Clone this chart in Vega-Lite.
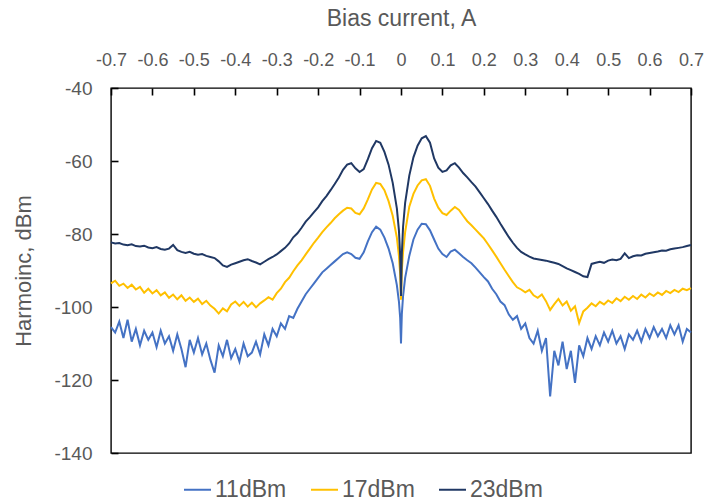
{
  "$schema": "https://vega.github.io/schema/vega-lite/v6.json",
  "width": 580,
  "height": 365,
  "autosize": {"type": "none"},
  "padding": {"left": 111, "top": 88, "right": 16, "bottom": 49},
  "background": "white",
  "config": {
    "view": {"stroke": "#000000", "strokeWidth": 1.4},
    "font": "Liberation Sans",
    "locale": {"number": {"decimal": ".", "thousands": ",", "grouping": [3], "currency": ["$", ""], "minus": "-"}}
  },
  "data": {
    "values": [
      {"x": -0.70, "11dBm": -105.5, "17dBm": -93.5, "23dBm": -82.3},
      {"x": -0.69, "11dBm": -107.0, "17dBm": -92.8, "23dBm": -82.6},
      {"x": -0.68, "11dBm": -104.0, "17dBm": -94.2, "23dBm": -82.5},
      {"x": -0.67, "11dBm": -108.5, "17dBm": -93.6, "23dBm": -82.9},
      {"x": -0.66, "11dBm": -103.5, "17dBm": -94.8, "23dBm": -83.1},
      {"x": -0.65, "11dBm": -109.5, "17dBm": -93.9, "23dBm": -82.8},
      {"x": -0.64, "11dBm": -106.0, "17dBm": -95.2, "23dBm": -83.3},
      {"x": -0.63, "11dBm": -110.5, "17dBm": -94.5, "23dBm": -83.4},
      {"x": -0.62, "11dBm": -106.5, "17dBm": -96.1, "23dBm": -83.2},
      {"x": -0.61, "11dBm": -109.0, "17dBm": -95.0, "23dBm": -83.7},
      {"x": -0.60, "11dBm": -107.0, "17dBm": -96.3, "23dBm": -83.9},
      {"x": -0.59, "11dBm": -111.0, "17dBm": -95.4, "23dBm": -83.6},
      {"x": -0.58, "11dBm": -106.5, "17dBm": -96.8, "23dBm": -84.1},
      {"x": -0.57, "11dBm": -110.0, "17dBm": -96.0, "23dBm": -84.3},
      {"x": -0.56, "11dBm": -108.0, "17dBm": -97.5, "23dBm": -84.0},
      {"x": -0.55, "11dBm": -112.0, "17dBm": -96.6, "23dBm": -83.0},
      {"x": -0.54, "11dBm": -107.5, "17dBm": -97.9, "23dBm": -84.4},
      {"x": -0.53, "11dBm": -111.5, "17dBm": -96.8, "23dBm": -84.9},
      {"x": -0.52, "11dBm": -116.5, "17dBm": -98.3, "23dBm": -85.2},
      {"x": -0.51, "11dBm": -109.0, "17dBm": -97.4, "23dBm": -84.9},
      {"x": -0.50, "11dBm": -112.5, "17dBm": -98.6, "23dBm": -85.4},
      {"x": -0.49, "11dBm": -108.5, "17dBm": -97.7, "23dBm": -85.7},
      {"x": -0.48, "11dBm": -113.0, "17dBm": -99.2, "23dBm": -85.5},
      {"x": -0.47, "11dBm": -110.0, "17dBm": -98.3, "23dBm": -86.0},
      {"x": -0.46, "11dBm": -114.5, "17dBm": -99.6, "23dBm": -86.3},
      {"x": -0.45, "11dBm": -118.0, "17dBm": -100.5, "23dBm": -86.6},
      {"x": -0.44, "11dBm": -110.5, "17dBm": -101.8, "23dBm": -87.5},
      {"x": -0.43, "11dBm": -113.5, "17dBm": -100.4, "23dBm": -88.6},
      {"x": -0.42, "11dBm": -109.0, "17dBm": -101.2, "23dBm": -89.0},
      {"x": -0.41, "11dBm": -114.0, "17dBm": -99.3, "23dBm": -88.4},
      {"x": -0.40, "11dBm": -111.5, "17dBm": -98.5, "23dBm": -88.0},
      {"x": -0.39, "11dBm": -115.0, "17dBm": -99.7, "23dBm": -87.6},
      {"x": -0.38, "11dBm": -110.0, "17dBm": -98.6, "23dBm": -87.2},
      {"x": -0.37, "11dBm": -113.5, "17dBm": -99.9, "23dBm": -86.9},
      {"x": -0.36, "11dBm": -112.5, "17dBm": -98.8, "23dBm": -87.4},
      {"x": -0.35, "11dBm": -109.5, "17dBm": -100.1, "23dBm": -87.8},
      {"x": -0.34, "11dBm": -113.0, "17dBm": -99.0, "23dBm": -88.3},
      {"x": -0.33, "11dBm": -107.5, "17dBm": -98.2, "23dBm": -87.6},
      {"x": -0.32, "11dBm": -110.5, "17dBm": -97.3, "23dBm": -86.9},
      {"x": -0.31, "11dBm": -106.0, "17dBm": -98.0, "23dBm": -86.3},
      {"x": -0.30, "11dBm": -108.0, "17dBm": -96.2, "23dBm": -85.6},
      {"x": -0.29, "11dBm": -104.5, "17dBm": -95.0, "23dBm": -84.7},
      {"x": -0.28, "11dBm": -106.0, "17dBm": -93.2, "23dBm": -83.8},
      {"x": -0.27, "11dBm": -102.5, "17dBm": -92.0, "23dBm": -82.6},
      {"x": -0.26, "11dBm": -103.0, "17dBm": -90.2, "23dBm": -80.9},
      {"x": -0.25, "11dBm": -100.5, "17dBm": -88.6, "23dBm": -79.8},
      {"x": -0.24, "11dBm": -98.5, "17dBm": -87.2, "23dBm": -78.3},
      {"x": -0.23, "11dBm": -96.5, "17dBm": -85.6, "23dBm": -76.6},
      {"x": -0.22, "11dBm": -95.0, "17dBm": -84.0, "23dBm": -75.4},
      {"x": -0.21, "11dBm": -93.5, "17dBm": -82.4, "23dBm": -74.0},
      {"x": -0.20, "11dBm": -92.0, "17dBm": -81.0, "23dBm": -72.7},
      {"x": -0.19, "11dBm": -90.5, "17dBm": -79.5, "23dBm": -71.0},
      {"x": -0.18, "11dBm": -89.5, "17dBm": -78.2, "23dBm": -69.6},
      {"x": -0.17, "11dBm": -88.5, "17dBm": -77.0, "23dBm": -68.0},
      {"x": -0.16, "11dBm": -87.5, "17dBm": -75.7, "23dBm": -66.3},
      {"x": -0.15, "11dBm": -86.5, "17dBm": -74.6, "23dBm": -64.5},
      {"x": -0.14, "11dBm": -85.5, "17dBm": -73.6, "23dBm": -62.4},
      {"x": -0.13, "11dBm": -85.0, "17dBm": -72.8, "23dBm": -61.0},
      {"x": -0.12, "11dBm": -85.5, "17dBm": -73.0, "23dBm": -60.6},
      {"x": -0.11, "11dBm": -86.5, "17dBm": -74.2, "23dBm": -62.0},
      {"x": -0.10, "11dBm": -86.8, "17dBm": -74.6, "23dBm": -63.0},
      {"x": -0.09, "11dBm": -85.0, "17dBm": -73.0, "23dBm": -62.2},
      {"x": -0.08, "11dBm": -82.0, "17dBm": -70.5, "23dBm": -59.5},
      {"x": -0.07, "11dBm": -79.5, "17dBm": -67.8, "23dBm": -56.5},
      {"x": -0.06, "11dBm": -78.0, "17dBm": -66.0, "23dBm": -54.5},
      {"x": -0.05, "11dBm": -78.8, "17dBm": -66.3, "23dBm": -55.0},
      {"x": -0.04, "11dBm": -81.0, "17dBm": -68.0, "23dBm": -57.5},
      {"x": -0.03, "11dBm": -84.0, "17dBm": -71.0, "23dBm": -61.0},
      {"x": -0.02, "11dBm": -88.0, "17dBm": -75.0, "23dBm": -66.0},
      {"x": -0.01, "11dBm": -94.0, "17dBm": -81.0, "23dBm": -73.0},
      {"x": -0.005, "11dBm": -98.5, "17dBm": -86.0, "23dBm": -79.0},
      {"x": -0.002, "11dBm": -103.0, "17dBm": -91.0, "23dBm": -86.0},
      {"x": 0.0, "11dBm": -110.0, "17dBm": -98.0, "23dBm": -97.0},
      {"x": 0.002, "11dBm": -102.0, "17dBm": -90.0, "23dBm": -85.5},
      {"x": 0.005, "11dBm": -97.0, "17dBm": -85.0, "23dBm": -78.0},
      {"x": 0.01, "11dBm": -92.0, "17dBm": -79.5, "23dBm": -71.5},
      {"x": 0.02, "11dBm": -86.0, "17dBm": -72.5, "23dBm": -64.0},
      {"x": 0.03, "11dBm": -81.5, "17dBm": -69.0, "23dBm": -59.0},
      {"x": 0.04, "11dBm": -78.8, "17dBm": -66.7, "23dBm": -55.8},
      {"x": 0.05, "11dBm": -77.2, "17dBm": -65.3, "23dBm": -53.8},
      {"x": 0.06, "11dBm": -77.3, "17dBm": -65.0, "23dBm": -53.2},
      {"x": 0.07, "11dBm": -79.0, "17dBm": -66.8, "23dBm": -55.0},
      {"x": 0.08, "11dBm": -81.5, "17dBm": -70.3, "23dBm": -59.3},
      {"x": 0.09, "11dBm": -84.0, "17dBm": -72.8, "23dBm": -61.8},
      {"x": 0.10, "11dBm": -85.5, "17dBm": -74.3, "23dBm": -63.0},
      {"x": 0.11, "11dBm": -86.3, "17dBm": -74.8, "23dBm": -62.6},
      {"x": 0.12, "11dBm": -84.8, "17dBm": -73.6, "23dBm": -61.2},
      {"x": 0.13, "11dBm": -84.3, "17dBm": -72.6, "23dBm": -60.6},
      {"x": 0.14, "11dBm": -85.3, "17dBm": -73.4, "23dBm": -61.8},
      {"x": 0.15, "11dBm": -86.3, "17dBm": -75.0, "23dBm": -63.3},
      {"x": 0.16, "11dBm": -87.2, "17dBm": -76.5, "23dBm": -64.5},
      {"x": 0.17, "11dBm": -88.0, "17dBm": -77.6, "23dBm": -65.8},
      {"x": 0.18, "11dBm": -89.2, "17dBm": -78.8, "23dBm": -67.0},
      {"x": 0.19, "11dBm": -90.5, "17dBm": -80.0, "23dBm": -68.6},
      {"x": 0.20, "11dBm": -91.8, "17dBm": -81.2, "23dBm": -70.2},
      {"x": 0.21, "11dBm": -93.0, "17dBm": -82.8, "23dBm": -71.8},
      {"x": 0.22, "11dBm": -95.0, "17dBm": -84.5, "23dBm": -73.6},
      {"x": 0.23, "11dBm": -96.5, "17dBm": -86.2, "23dBm": -75.3},
      {"x": 0.24, "11dBm": -98.5, "17dBm": -88.0, "23dBm": -77.2},
      {"x": 0.25, "11dBm": -99.5, "17dBm": -89.8, "23dBm": -79.0},
      {"x": 0.26, "11dBm": -102.0, "17dBm": -91.5, "23dBm": -80.8},
      {"x": 0.27, "11dBm": -103.5, "17dBm": -93.2, "23dBm": -82.4},
      {"x": 0.28, "11dBm": -102.5, "17dBm": -94.6, "23dBm": -83.8},
      {"x": 0.29, "11dBm": -106.0, "17dBm": -95.2, "23dBm": -84.9},
      {"x": 0.30, "11dBm": -104.5, "17dBm": -96.0, "23dBm": -85.6},
      {"x": 0.31, "11dBm": -108.5, "17dBm": -95.3, "23dBm": -86.2},
      {"x": 0.32, "11dBm": -110.0, "17dBm": -96.8, "23dBm": -86.7},
      {"x": 0.33, "11dBm": -106.5, "17dBm": -97.5, "23dBm": -86.9},
      {"x": 0.34, "11dBm": -112.0, "17dBm": -96.6, "23dBm": -87.1},
      {"x": 0.35, "11dBm": -108.5, "17dBm": -98.4, "23dBm": -87.3},
      {"x": 0.36, "11dBm": -124.5, "17dBm": -100.8, "23dBm": -87.6},
      {"x": 0.37, "11dBm": -112.0, "17dBm": -99.2, "23dBm": -87.9},
      {"x": 0.38, "11dBm": -116.0, "17dBm": -97.8, "23dBm": -88.2},
      {"x": 0.39, "11dBm": -109.5, "17dBm": -99.6, "23dBm": -88.8},
      {"x": 0.40, "11dBm": -117.0, "17dBm": -98.5, "23dBm": -89.4},
      {"x": 0.41, "11dBm": -112.0, "17dBm": -101.0, "23dBm": -89.9},
      {"x": 0.42, "11dBm": -120.8, "17dBm": -99.8, "23dBm": -90.4},
      {"x": 0.43, "11dBm": -110.5, "17dBm": -104.4, "23dBm": -90.9},
      {"x": 0.44, "11dBm": -113.5, "17dBm": -101.2, "23dBm": -91.6},
      {"x": 0.45, "11dBm": -108.5, "17dBm": -100.2, "23dBm": -91.8},
      {"x": 0.46, "11dBm": -111.5, "17dBm": -99.0, "23dBm": -88.2},
      {"x": 0.47, "11dBm": -108.0, "17dBm": -99.8, "23dBm": -87.9},
      {"x": 0.48, "11dBm": -110.5, "17dBm": -98.6, "23dBm": -87.6},
      {"x": 0.49, "11dBm": -107.0, "17dBm": -99.3, "23dBm": -87.9},
      {"x": 0.50, "11dBm": -109.5, "17dBm": -98.2, "23dBm": -87.3},
      {"x": 0.51, "11dBm": -106.5, "17dBm": -98.9, "23dBm": -87.0},
      {"x": 0.52, "11dBm": -110.0, "17dBm": -97.6, "23dBm": -87.2},
      {"x": 0.53, "11dBm": -108.0, "17dBm": -98.4, "23dBm": -86.8},
      {"x": 0.54, "11dBm": -111.5, "17dBm": -97.2, "23dBm": -85.3},
      {"x": 0.55, "11dBm": -107.5, "17dBm": -98.0, "23dBm": -86.6},
      {"x": 0.56, "11dBm": -109.0, "17dBm": -97.0, "23dBm": -86.1},
      {"x": 0.57, "11dBm": -106.5, "17dBm": -97.8, "23dBm": -85.8},
      {"x": 0.58, "11dBm": -109.5, "17dBm": -96.6, "23dBm": -85.9},
      {"x": 0.59, "11dBm": -106.0, "17dBm": -97.4, "23dBm": -85.4},
      {"x": 0.60, "11dBm": -108.5, "17dBm": -96.3, "23dBm": -85.2},
      {"x": 0.61, "11dBm": -105.5, "17dBm": -97.0, "23dBm": -85.0},
      {"x": 0.62, "11dBm": -108.0, "17dBm": -96.0, "23dBm": -84.8},
      {"x": 0.63, "11dBm": -106.0, "17dBm": -96.7, "23dBm": -84.5},
      {"x": 0.64, "11dBm": -108.5, "17dBm": -95.6, "23dBm": -84.6},
      {"x": 0.65, "11dBm": -105.0, "17dBm": -96.2, "23dBm": -84.2},
      {"x": 0.66, "11dBm": -107.5, "17dBm": -95.3, "23dBm": -84.0},
      {"x": 0.67, "11dBm": -105.0, "17dBm": -95.9, "23dBm": -83.8},
      {"x": 0.68, "11dBm": -109.5, "17dBm": -95.0, "23dBm": -83.6},
      {"x": 0.69, "11dBm": -106.0, "17dBm": -95.4, "23dBm": -83.3},
      {"x": 0.70, "11dBm": -107.0, "17dBm": -94.8, "23dBm": -83.0}
    ]
  },
  "transform": [
    {"fold": ["11dBm", "17dBm", "23dBm"], "as": ["series", "value"]}
  ],
  "mark": {"type": "line", "strokeWidth": 2, "interpolate": "linear"},
  "encoding": {
    "x": {
      "field": "x",
      "type": "quantitative",
      "scale": {"domain": [-0.7, 0.7], "nice": false, "zero": false},
      "axis": {
        "orient": "top",
        "title": "Bias current, A",
        "values": [-0.7, -0.6, -0.5, -0.4, -0.3, -0.2, -0.1, 0, 0.1, 0.2, 0.3, 0.4, 0.5, 0.6, 0.7],
        "format": ".1~f",
        "grid": false,
        "domain": false,
        "ticks": true,
        "tickSize": -7,
        "tickColor": "#000000",
        "tickWidth": 1.6,
        "zindex": 3,
        "labelPadding": 26,
        "labelFontSize": 18,
        "labelColor": "#595959",
        "labelFont": "Liberation Sans",
        "labelFlush": false,
        "labelOverlap": false,
        "titleFontSize": 23,
        "titleFontWeight": "normal",
        "titleColor": "#595959",
        "titleFont": "Liberation Sans",
        "titlePadding": 21
      }
    },
    "y": {
      "field": "value",
      "type": "quantitative",
      "scale": {"domain": [-140, -40], "nice": false, "zero": false},
      "axis": {
        "orient": "left",
        "title": "Harmoinc, dBm",
        "values": [-140, -120, -100, -80, -60, -40],
        "format": "d",
        "grid": false,
        "domain": false,
        "ticks": true,
        "tickSize": -7,
        "tickColor": "#000000",
        "tickWidth": 1.6,
        "zindex": 3,
        "labelPadding": 26,
        "labelFontSize": 19,
        "labelColor": "#595959",
        "labelFont": "Liberation Sans",
        "labelFlush": false,
        "labelOverlap": false,
        "titleFontSize": 22,
        "titleFontWeight": "normal",
        "titleColor": "#595959",
        "titleFont": "Liberation Sans",
        "titlePadding": 18
      }
    },
    "color": {
      "field": "series",
      "type": "nominal",
      "scale": {"domain": ["11dBm", "17dBm", "23dBm"], "range": ["#4472C4", "#FFC000", "#203864"]},
      "legend": {
        "title": null,
        "orient": "none",
        "legendX": 72,
        "legendY": 387,
        "direction": "horizontal",
        "symbolType": "stroke",
        "symbolSize": 729,
        "symbolStrokeWidth": 2,
        "labelFontSize": 23,
        "labelColor": "#595959",
        "labelFont": "Liberation Sans",
        "labelOffset": 3,
        "columnPadding": 20
      }
    }
  }
}
